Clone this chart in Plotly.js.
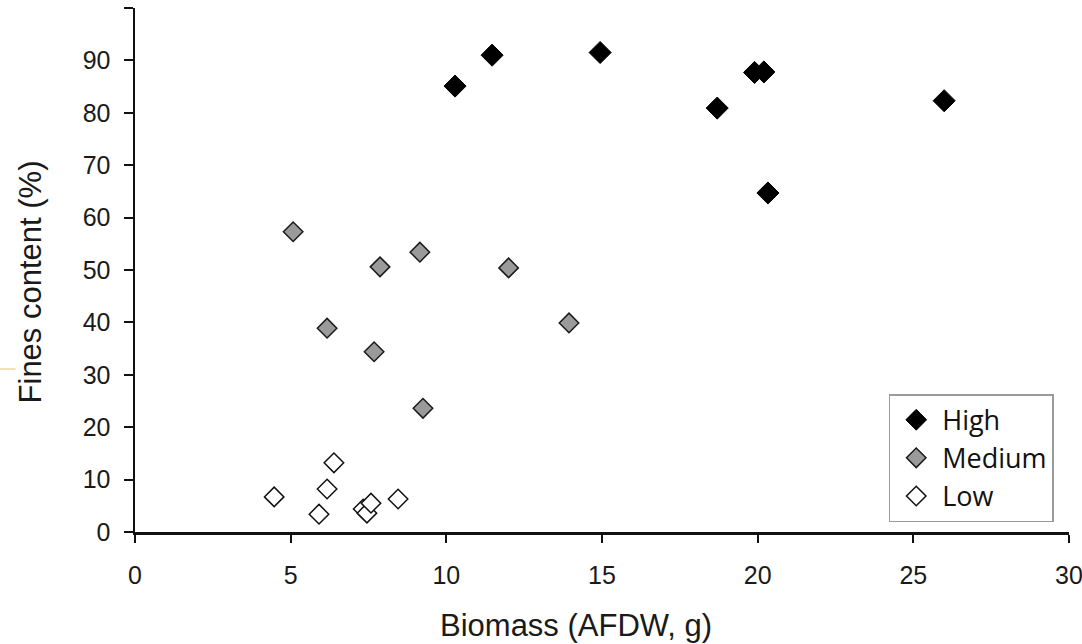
<!DOCTYPE html>
<html>
<head>
<meta charset="utf-8">
<script src="https://cdn.plot.ly/plotly-3.0.1.min.js"></script>
<style>html,body{margin:0;padding:0;background:#fff;}#chart{width:1082px;height:644px;}</style>
</head>
<body>
<div id="chart"></div>
<script>
// High fines content
var highX = [10.28, 11.47, 14.94, 18.7, 19.9, 20.2, 20.33, 25.99];
var highY = [85.1, 91.0, 91.5, 80.9, 87.7, 87.8, 64.7, 82.3];
// Medium fines content
var medX = [5.08, 7.87, 9.15, 12.0, 6.17, 7.68, 13.94, 9.25];
var medY = [57.3, 50.6, 53.4, 50.4, 38.9, 34.4, 39.9, 23.6];
// Low fines content
var lowX = [4.47, 6.39, 6.17, 5.91, 7.33, 7.45, 7.58, 8.45];
var lowY = [6.7, 13.2, 8.2, 3.4, 4.4, 3.6, 5.5, 6.3];

var yTickVals = [0, 10, 20, 30, 40, 50, 60, 70, 80, 90, 100];
var yTickText = ['0', '10', '20', '30', '40', '50', '60', '70', '80', '90', ''];
var xTickVals = [0, 5, 10, 15, 20, 25, 30];

var traces = [
  {x: highX, y: highY, name: 'High', type: 'scatter', mode: 'markers', legendgroup: 'h',
   marker: {symbol: 'diamond', size: 17, color: '#000000', line: {color: '#000000', width: 1}}},
  {x: medX, y: medY, name: 'Medium', type: 'scatter', mode: 'markers', legendgroup: 'm',
   marker: {symbol: 'diamond', size: 15, color: '#9a9a9a', line: {color: '#1a1a1a', width: 1.5}}},
  {x: lowX, y: lowY, name: 'Low', type: 'scatter', mode: 'markers', legendgroup: 'l',
   marker: {symbol: 'diamond', size: 15, color: '#ffffff', line: {color: '#111111', width: 1.5}}}
];

var axisFont = {family: 'Liberation Sans, Arial, sans-serif', size: 25, color: '#1a1a1a'};
var titleFont = {family: 'Liberation Sans, Arial, sans-serif', size: 31, color: '#1a1a1a'};

var layout = {
  width: 1082, height: 644,
  margin: {l: 135, r: 13, t: 8, b: 112},
  paper_bgcolor: '#ffffff', plot_bgcolor: '#ffffff',
  showlegend: true,
  legend: {
    x: 0.807, y: 0.263, xanchor: 'left', yanchor: 'top',
    bgcolor: '#ffffff', bordercolor: '#9a9a9a', borderwidth: 1.5,
    font: {family: 'Open Sans, sans-serif', size: 27, color: '#111111'},
    traceorder: 'grouped', tracegroupgap: 0, itemwidth: 42
  },
  xaxis: {
    range: [0, 30], tickvals: xTickVals, showgrid: false, zeroline: false,
    showline: true, linecolor: '#111111', linewidth: 2.5,
    ticks: 'outside', ticklen: 8, tickwidth: 2, tickcolor: '#111111',
    tickfont: axisFont, ticklabelstandoff: 11, ticklabeloverflow: 'allow', fixedrange: true
  },
  yaxis: {
    range: [0, 100], tickvals: yTickVals, ticktext: yTickText, showgrid: false, zeroline: false,
    showline: true, linecolor: '#111111', linewidth: 2.5,
    ticks: 'outside', ticklen: 9, tickwidth: 2, tickcolor: '#111111',
    tickfont: axisFont, ticklabelstandoff: 8, fixedrange: true
  },
  shapes: [
    {type: 'line', xref: 'paper', yref: 'paper', x0: -0.1445, x1: -0.128, y0: 0.311, y1: 0.311,
     line: {color: '#e6c27a', width: 1}}
  ],
  annotations: [
    {text: 'Biomass (AFDW, g)', xref: 'paper', yref: 'paper', x: 0.472, y: -0.179,
     xanchor: 'center', yanchor: 'middle', showarrow: false, font: titleFont},
    {text: 'Fines content (%)', xref: 'paper', yref: 'paper', x: -0.112, y: 0.477,
     xanchor: 'center', yanchor: 'middle', showarrow: false, textangle: -90, font: titleFont}
  ]
};

Plotly.newPlot('chart', traces, layout, {displayModeBar: false, staticPlot: true});
</script>
</body>
</html>
